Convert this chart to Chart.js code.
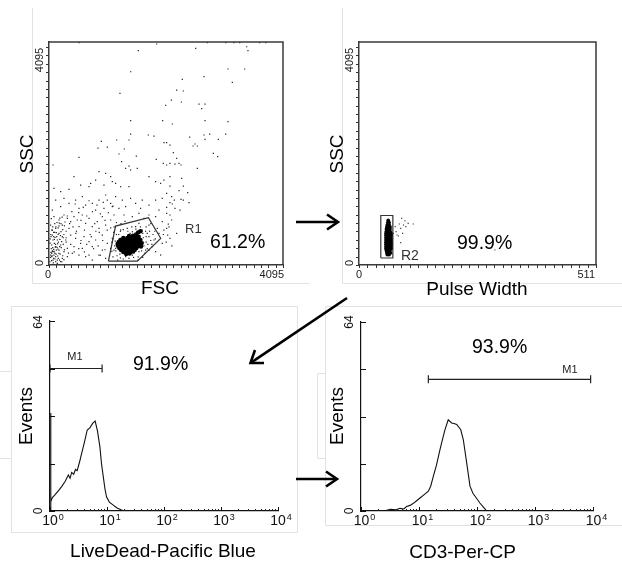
<!DOCTYPE html>
<html><head><meta charset="utf-8">
<script src="https://cdn.jsdelivr.net/npm/chart.js@4.4.1/dist/chart.umd.min.js"></script>
<style>
html,body{margin:0;padding:0;background:#fff;}
#fig{position:relative;width:622px;height:564px;overflow:hidden;background:#fff;}
canvas.p{position:absolute;}
svg.ov{position:absolute;left:0;top:0;}
</style></head><body>
<div id="fig">
<svg class="ov" width="622" height="564">
 <g stroke="#e2e2e2" stroke-width="1" fill="none">
  <path d="M32.5 8 V283.5 H310"/>
  <path d="M342.5 8 V283.5 H622"/>
  <rect x="11.5" y="306.5" width="286" height="226"/>
  <path d="M0 371.5 H11.5 M0 458.5 H11.5"/>
  <path d="M622 306.5 H325.5 V525.5 H622"/>
  <path d="M325.5 373.5 H317.5 V458.5 H325.5"/>
 </g>
</svg>
<canvas id="c1" class="p" style="left:0;top:0" width="310" height="300"></canvas>
<canvas id="c2" class="p" style="left:310px;top:0" width="312" height="300"></canvas>
<canvas id="c3" class="p" style="left:0;top:290px" width="310" height="274"></canvas>
<canvas id="c4" class="p" style="left:310px;top:290px" width="312" height="274"></canvas>
<svg class="ov" width="622" height="564">
 <g stroke="#000" stroke-width="2.6" fill="none">
  <line x1="296" y1="222" x2="337" y2="222"/>
  <polyline points="327,214.5 338,222 327,229.5"/>
  <line x1="347" y1="298" x2="252" y2="362"/>
  <polyline points="264,363 250.5,363 255,350"/>
  <line x1="296" y1="479" x2="336" y2="479"/>
  <polyline points="326,471.5 337,479 326,486.5"/>
 </g>
</svg>
</div>
<script>
// ---------------- DATA ----------------
const fscTickLabels = ['0', '4095'];
const sscTickLabels = ['0', '4095'];
const pulseTickLabels = ['0', '511'];
const eventsTickLabels = ['0', '64'];
const logTickValues = [1, 10, 100, 1000, 10000];
const logTickExps = ['0', '1', '2', '3', '4'];
const axisTitlesTop = ['FSC', 'SSC', 'Pulse Width', 'SSC'];
const axisTitlesBottom = ['LiveDead-Pacific Blue', 'Events', 'CD3-Per-CP', 'Events'];
const gateNames = ['R1', 'R2'];
const gatePercents = ['61.2%', '99.9%'];
const markerNames = ['M1', 'M1'];
const markerPercents = ['91.9%', '93.9%'];

// FSC vs SSC events (x = FSC, y = SSC)
const fscSscEvents = [
[1563,3935],[1884,4058],[2567,3978],[3459,4008],[3482,3935],[1429,3549],[3132,3599],[3424,3599],[2712,3458],[2333,3409],[3208,3354],[1242,3152],[2234,3213],[2351,3195],[2141,3029],[2316,2993],[2042,2932],[2625,2956],[2730,2956],[2672,2870],[1429,2650],[1989,2650],[2158,2589],[2730,2650],[3132,2632],[1429,2405],[1738,2387],[1837,2368],[2712,2387],[2812,2405],[3092,2405],[2462,2350],[916,2271],[1184,2295],[1400,2295],[2012,2246],[2059,2246],[2117,2203],[2555,2222],[2520,2185],[2596,2185],[2730,2307],[2963,2307],[857,2148],[1021,2166],[1318,2130],
[525,4085],[2771,4085],[3092,4085],[3237,4085],[3337,4085],[3687,4085],[3792,4085],
[525,1976],[1225,2038],[1528,2001],[1271,1897],[1400,1817],[1877,1940],[2000,1866],[70,1836],[1341,1774],[1428,1744],[1545,1774],
[437,1621],[875,1713],[991,1683],[816,1560],[1079,1621],[1108,1530],[554,1468],[729,1499],[700,1438],[962,1468],[1166,1499],[1253,1438],[1399,1438],[1866,1530],[1953,1499],[2011,1560],[1749,1621],[204,1346],[350,1389],[87,1407],
[117,1193],[262,1224],[350,1132],[466,1193],[583,1254],[641,1101],[758,1132],[875,1193],[991,1285],[1020,1193],[1079,1132],[1108,1071],[1166,1254],[1283,1193],[1428,1224],[1516,1132],[1632,1193],[1749,1101],[1866,1193],[1982,1224],[525,1040],[816,1009],[962,1040],[1224,1040],[1341,1071],[1603,1040],[1924,1009],[58,1009],[204,1071],
[87,887],[175,826],[262,918],[321,856],[379,795],[437,887],[496,826],[583,918],[641,765],[700,856],[758,703],[845,795],[933,887],[991,734],[1079,826],[1137,918],[1312,918],[1458,887],[1574,948],[1662,856],[1749,918],[1866,887],[1982,795],[233,734],[350,673],[525,703],[875,673],[1020,642],[1574,765],[1749,734],[1895,673],[2011,642],[117,673],[29,734],
[58,550],[105,508],[146,459],[175,581],[233,520],[292,459],[379,550],[466,489],[554,397],[612,520],[700,428],[816,459],[933,550],[1020,397],[1108,489],[1749,520],[1837,459],[1924,581],[1982,397],[1807,336],[47,367],[117,336],[204,367],[321,306],[437,336],[583,306],[758,336],[933,275],[1079,306],[1137,275],
[58,244],[87,183],[117,153],[146,91],[70,91],[105,214],[175,214],[233,122],[321,153],[408,214],[525,183],[641,153],[758,91],[875,183],[991,122],[1749,275],[1866,244],[1953,183],[47,153],[128,275],[163,122],[82,287],[204,61],[262,244],
[1253,642],[1370,673],[1516,703],[1632,642],[1720,581],[1341,153],[1458,183],[1574,244],[1691,275],[1166,306],
[35,520],[70,459],[93,397],[140,324],[175,275],[47,214],[82,122],[117,61],[152,165],[187,336],[222,428],[58,642],[128,593],[210,612],
[20,400],[40,300],[60,260],[30,180],[90,240],[110,330],[150,390],[190,470],[250,380],[300,500],[260,560],[200,540],[80,600],[160,680],[240,650],[300,620],[100,760],[40,850],[180,770],[280,790],
[15,60],[25,140],[35,230],[45,80],[55,170],[65,320],[75,40],[85,250],[95,470],[105,110],[115,380],[125,200],[135,520],[145,30],[155,290],[165,420],[185,90],[195,200],[215,320],[225,60],[240,170],[260,100],[270,280],[20,480],[30,560],[50,640],[65,700],[80,520],[100,600],[120,700],[140,780],[160,560],[175,720],[190,860],[210,760],[230,880],[250,500],[270,720],
[320,900],[360,760],[400,980],[420,700],[460,1120],[480,620],[520,960],[560,820],[600,1060],[620,640],[660,900],[700,1180],[720,560],[760,980],[800,760],[840,1100],[880,600],[900,940],[950,1150],[980,820],[1040,960],[1080,680],[1120,1080],[300,420],[340,220],[380,380],[440,240],[470,580],[520,300],[560,450],[620,240],[660,380],[700,180],[740,520],[780,300],[820,620],[860,350],[900,180],[940,450],[980,280],
[2876,2050],[2952,1989],[2176,2062],[2234,1958],[2117,1866],[2059,1836],[2205,1854],[2310,1836],[2275,1866],[2596,1774],[2117,1621],[2322,1591],[2117,1450],[2351,1450],[2275,1364],[2427,1328],[2059,1315],[2147,1254],[2193,1193],[2310,1205],[2351,1193],[2450,1144],[2117,1144],[2158,1120],[2059,1058],[2205,1040],[2292,1009],[2059,948],[2117,918],[2147,826],[2088,752],[2059,673],[2234,581],[2077,550],[2117,489],
[1130,600],[1180,560],[1120,480],[1150,350],[1100,250],[1190,170],[1250,130],[1700,420],[1650,500],[1780,450],[1620,260],[1560,150],[1480,140],[1690,620],[1600,700],[1450,700],[1300,650],[1220,560],[1660,350],[1720,300],[1120,150],[1400,120],
[1100,420],[1140,700],[1180,780],[1260,760],[1330,800],[1380,620],[1460,610],[1520,660],[1640,580],[1700,700],[1760,620],[1820,560],[1860,480],[1680,220],[1640,140],[1560,90],[1300,110],[1200,90],[1650,420],[1700,520],[1730,380],[1800,380],[1850,620],[1780,760],[1240,200],[1170,260],[1160,440],[1250,620],[1420,580],[1500,580],
[2000,560],[2050,420],[2100,700],[2150,350]
];
// dense lymphocyte core inside R1
const fscSscCore = [
[1400,532],[1470,540],[1530,560],[1560,600],[1600,620],
[1300,496],[1370,496],[1440,496],[1510,500],[1570,520],
[1250,459],[1310,459],[1370,459],[1430,459],[1490,459],[1550,470],[1600,460],
[1220,422],[1280,422],[1340,422],[1400,422],[1460,422],[1520,422],[1580,430],[1620,400],
[1200,386],[1260,386],[1320,386],[1380,386],[1440,386],[1500,386],[1560,386],
[1210,349],[1270,349],[1330,349],[1390,349],[1450,349],[1510,349],[1570,349],[1610,340],
[1230,312],[1290,312],[1350,312],[1410,312],[1470,312],[1530,312],
[1260,275],[1320,275],[1380,275],[1440,275],[1500,275],
[1300,238],[1360,238],[1420,238],[1470,245],
[1350,202],[1410,210]
];
const gateR1 = [[1040,70],[1165,715],[1740,870],[1955,490],[1545,70],[1040,70]];

// Pulse width vs SSC
const pulseSscEvents = [[92,857],[99,813],[87,753],[96,734],[106,765],[117,753],[90,673],[101,704],[80,612],[94,581],[85,532],[90,410],[78,704],[74,581],[82,551],[293,275]];
const pulseSscCore = [
[63,820],[62,780],[65,780],[61,740],[65,740],[60,700],[64,700],[67,700],
[59,660],[63,660],[67,660],[59,620],[63,620],[67,620],
[58,580],[62,580],[66,580],[69,580],[58,540],[62,540],[66,540],[69,540],
[58,500],[62,500],[66,500],[69,500],[58,460],[62,460],[66,460],[69,460],
[58,420],[62,420],[66,420],[69,420],[58,380],[62,380],[66,380],[69,380],
[58,340],[62,340],[66,340],[69,340],[58,300],[62,300],[66,300],[69,300],
[59,260],[63,260],[67,260],[60,220],[64,220],[68,220],[61,190],[65,190]
];
const gateR2 = [[47,129],[47,909],[73,909],[73,129],[47,129]];

// Histograms
const liveDeadX = [1.025,1.025,1.04,1.1,1.22,1.4,1.6,1.85,2.1,2.25,2.4,2.6,2.8,3.0,3.3,3.6,4.0,4.5,5.0,5.6,6.2,6.8,7.5,8.0,8.6,9.2,9.8,11,12.9,15,18,20];
const liveDeadEvents = [0,33,3.1,4.5,5.4,6.8,8.2,10,12.1,11,13,12.4,14,13.6,16.5,19.5,23,27.3,28,29.5,30.3,27,21.7,16,11.6,7.5,4.8,3,2,1,0.3,0];
const cd3X = [2.5,3.2,4,4.7,5.5,6.1,7,8,9,10.4,12,14.5,15.9,17.7,20,23,26,28,31.9,36.5,40,44.7,52.5,58,66.4,75.7,85,92.7,112,130,147];
const cd3Events = [0,0.6,0.4,0.9,0.7,1.5,1.9,2.6,3.4,4.4,5.4,6.7,8.4,11.8,15.5,20.8,25,27.5,30.9,29.8,29.6,29.3,27.5,24.2,16.3,8.4,6,5,2.7,1.2,0];
const markerLiveDead = [1, 8.2];   const markerLiveDeadLevel = 48;
const markerCD3 = [14.5, 9100];    const markerCD3Level = 44.6;

// ---------------- RENDER ----------------
const FONT = '"Liberation Sans", Arial, Helvetica, sans-serif';
Chart.defaults.font.family = FONT;

const fscTicks = Array.from({length: 33}, (_, i) => Math.min(i * 128, 4095));
const sscTicks = Array.from({length: 27}, (_, i) => i * 154);
const pulseTicks = Array.from({length: 29}, (_, i) => Math.min(i * 18.25, 511));
const evTicks = [0, 16, 32, 48, 64];
const logMinor = [];
[1, 10, 100, 1000].forEach(d => { for (let m = 2; m <= 9; m++) logMinor.push(m * d); });

const DECOR = {};
const decor = {
  id: 'decor',
  afterDraw(chart) {
    const o = DECOR[chart.canvas.id]; if (!o) return;
    const ctx = chart.ctx, ca = chart.chartArea;
    const [ox, oy] = o.origin;
    const xs = chart.scales.x, ys = chart.scales.y;
    ctx.save();
    if (o.box) {
      ctx.strokeStyle = '#3a3a3a'; ctx.lineWidth = 1.5;
      ctx.beginPath(); ctx.moveTo(ca.left, ca.top); ctx.lineTo(ca.right, ca.top); ctx.lineTo(ca.right, ca.bottom); ctx.stroke();
    }
    for (const tk of o.ticks || []) {
      ctx.strokeStyle = tk.color || '#333'; ctx.lineWidth = 1;
      ctx.beginPath();
      tk.values.forEach(v => {
        if (tk.axis === 'x') {
          const p = Math.round(xs.getPixelForValue(v)) + 0.5, s = tk.dir === 'out' ? 1 : -1;
          ctx.moveTo(p, ca.bottom); ctx.lineTo(p, ca.bottom + s * tk.len);
        } else {
          const p = Math.round(ys.getPixelForValue(v)) + 0.5, s = tk.dir === 'out' ? -1 : 1;
          ctx.moveTo(ca.left, p); ctx.lineTo(ca.left + s * tk.len, p);
        }
      });
      ctx.stroke();
    }
    for (const t of o.texts || []) {
      ctx.save();
      ctx.font = t.size + 'px ' + FONT;
      ctx.fillStyle = t.color || '#000';
      ctx.textAlign = t.align || 'center';
      ctx.textBaseline = 'alphabetic';
      ctx.translate(t.x - ox, t.y - oy);
      if (t.rot) ctx.rotate(t.rot * Math.PI / 180);
      ctx.fillText(t.text, 0, 0);
      ctx.restore();
    }
    if (o.logLabels) {
      const L = o.logLabels;
      ctx.fillStyle = '#111'; ctx.textAlign = 'left'; ctx.textBaseline = 'alphabetic';
      logTickValues.forEach((v, i) => {
        const px = xs.getPixelForValue(v) + L.shift;
        ctx.font = L.size + 'px ' + FONT; const w1 = ctx.measureText('10').width;
        ctx.font = L.sup + 'px ' + FONT; const w2 = ctx.measureText(logTickExps[i]).width;
        const x = px - (w1 + 1 + w2) / 2;
        ctx.font = L.size + 'px ' + FONT; ctx.fillText('10', x, L.y - oy);
        ctx.font = L.sup + 'px ' + FONT; ctx.fillText(logTickExps[i], x + w1 + 1, L.y - oy - L.raise);
      });
    }
    ctx.restore();
  }
};

const toXY = a => a.map(p => ({x: p[0], y: p[1]}));
const zipXY = (xs, ys) => xs.map((x, i) => ({x, y: ys[i]}));

function build(id, area, xScale, yScale, datasets) {
  const cv = document.getElementById(id);
  const W = cv.width, H = cv.height;
  return new Chart(cv, {
    type: 'scatter',
    data: {datasets},
    options: {
      responsive: false, animation: false, devicePixelRatio: 1, events: [],
      layout: {autoPadding: false, padding: {left: 0, top: area.top, right: W - area.right, bottom: 0}},
      plugins: {legend: {display: false}, tooltip: {enabled: false}},
      scales: {
        x: Object.assign({position: 'bottom', ticks: {display: false}, grid: {display: false},
          afterFit(s) { s.height = H - area.bottom; }}, xScale),
        y: Object.assign({position: 'left', ticks: {display: false}, grid: {display: false},
          afterFit(s) { s.width = area.left; }}, yScale)
      }
    },
    plugins: [decor]
  });
}

const boxBorder = {display: true, color: '#3a3a3a', width: 1.5};
const axBorder = {display: true, color: '#111', width: 1.2};

// Panel 1: FSC / SSC
DECOR.c1 = {
  origin: [0, 0], box: true,
  ticks: [{axis: 'x', values: fscTicks, len: 3, dir: 'out'}, {axis: 'y', values: sscTicks, len: 3, dir: 'out'}],
  texts: [
    {text: axisTitlesTop[1], x: 33, y: 154, size: 19, rot: -90},
    {text: axisTitlesTop[0], x: 160, y: 294, size: 19},
    {text: sscTickLabels[1], x: 43, y: 60, size: 11, rot: -90, color: '#222'},
    {text: sscTickLabels[0], x: 43, y: 263, size: 11, rot: -90, color: '#222'},
    {text: fscTickLabels[0], x: 48, y: 278, size: 11, color: '#222'},
    {text: fscTickLabels[1], x: 284, y: 278, size: 11, align: 'right', color: '#222'},
    {text: gateNames[0], x: 185, y: 233, size: 13, align: 'left', color: '#333'},
    {text: gatePercents[0], x: 210, y: 248, size: 19.5, align: 'left'}
  ]
};
build('c1', {left: 49, top: 42, right: 283, bottom: 265},
  {type: 'linear', min: 0, max: 4095, border: boxBorder},
  {type: 'linear', min: 0, max: 4095, border: boxBorder},
  [
    {data: toXY(fscSscEvents), pointStyle: 'rect', pointRadius: 0.85, backgroundColor: '#222', borderWidth: 0, clip: 3},
    {data: toXY(fscSscCore), pointRadius: 2.2, backgroundColor: '#000', borderWidth: 0},
    {data: toXY(gateR1), showLine: true, borderColor: '#333', borderWidth: 1.2, pointRadius: 0, tension: 0, fill: false}
  ]);

// Panel 2: Pulse width / SSC
DECOR.c2 = {
  origin: [310, 0], box: true,
  ticks: [{axis: 'x', values: pulseTicks, len: 3, dir: 'out'}, {axis: 'y', values: sscTicks, len: 3, dir: 'out'}],
  texts: [
    {text: axisTitlesTop[3], x: 343, y: 154, size: 19, rot: -90},
    {text: axisTitlesTop[2], x: 477, y: 295, size: 19},
    {text: sscTickLabels[1], x: 353, y: 60, size: 11, rot: -90, color: '#222'},
    {text: sscTickLabels[0], x: 353, y: 263, size: 11, rot: -90, color: '#222'},
    {text: pulseTickLabels[0], x: 359, y: 278, size: 11, color: '#222'},
    {text: pulseTickLabels[1], x: 595, y: 278, size: 11, align: 'right', color: '#222'},
    {text: gateNames[1], x: 401, y: 260, size: 14, align: 'left', color: '#333'},
    {text: gatePercents[1], x: 457, y: 249, size: 19.5, align: 'left'}
  ]
};
build('c2', {left: 49, top: 42, right: 286, bottom: 265},
  {type: 'linear', min: 0, max: 511, border: boxBorder},
  {type: 'linear', min: 0, max: 4095, border: boxBorder},
  [
    {data: toXY(pulseSscEvents), pointStyle: 'rect', pointRadius: 0.8, backgroundColor: '#333', borderWidth: 0},
    {data: toXY(pulseSscCore), pointRadius: 1.8, backgroundColor: '#000', borderWidth: 0},
    {data: toXY(gateR2), showLine: true, borderColor: '#333', borderWidth: 1.2, pointRadius: 0, tension: 0, fill: false}
  ]);

function markerSet(range, level) {
  return {data: [{x: range[0], y: level}, {x: range[1], y: level}], showLine: true,
    borderColor: '#222', borderWidth: 1.2, pointStyle: 'line', pointRotation: 90,
    pointRadius: 4, pointBorderColor: '#222', pointBorderWidth: 1.2, backgroundColor: '#222', tension: 0};
}

// Panel 3: LiveDead histogram
DECOR.c3 = {
  origin: [0, 290],
  ticks: [{axis: 'y', values: evTicks, len: 5, dir: 'in', color: '#111'},
          {axis: 'x', values: logTickValues, len: 4, dir: 'in', color: '#111'},
          {axis: 'x', values: logMinor, len: 2, dir: 'in', color: '#222'}],
  texts: [
    {text: axisTitlesBottom[1], x: 32, y: 416, size: 19, rot: -90},
    {text: eventsTickLabels[1], x: 42, y: 322, size: 12, rot: -90, color: '#111'},
    {text: eventsTickLabels[0], x: 42, y: 511, size: 12, rot: -90, color: '#111'},
    {text: axisTitlesBottom[0], x: 163, y: 557, size: 19},
    {text: markerNames[0], x: 75, y: 360, size: 11, color: '#222'},
    {text: markerPercents[0], x: 133, y: 370, size: 19.5, align: 'left'}
  ],
  logLabels: {y: 525, shift: 3, size: 14, sup: 9, raise: 5}
};
build('c3', {left: 50, top: 31, right: 278, bottom: 221},
  {type: 'logarithmic', min: 1, max: 10000, border: axBorder},
  {type: 'linear', min: 0, max: 64, border: axBorder},
  [
    {data: zipXY(liveDeadX, liveDeadEvents), showLine: true, borderColor: '#111', borderWidth: 1.1, pointRadius: 0, tension: 0, fill: false},
    markerSet(markerLiveDead, markerLiveDeadLevel)
  ]);

// Panel 4: CD3 histogram
DECOR.c4 = {
  origin: [310, 290],
  ticks: [{axis: 'y', values: evTicks, len: 5, dir: 'in', color: '#111'},
          {axis: 'x', values: logTickValues, len: 4, dir: 'in', color: '#111'},
          {axis: 'x', values: logMinor, len: 2, dir: 'in', color: '#222'}],
  texts: [
    {text: axisTitlesBottom[3], x: 343, y: 416, size: 19, rot: -90},
    {text: eventsTickLabels[1], x: 353, y: 322, size: 12, rot: -90, color: '#111'},
    {text: eventsTickLabels[0], x: 353, y: 511, size: 12, rot: -90, color: '#111'},
    {text: axisTitlesBottom[2], x: 462.5, y: 558, size: 19},
    {text: markerNames[1], x: 570, y: 373, size: 11, color: '#222'},
    {text: markerPercents[1], x: 472, y: 353, size: 19.5, align: 'left'}
  ],
  logLabels: {y: 525, shift: 3.5, size: 14, sup: 9, raise: 5}
};
build('c4', {left: 51, top: 32, right: 283, bottom: 221},
  {type: 'logarithmic', min: 1, max: 10000, border: axBorder},
  {type: 'linear', min: 0, max: 64, border: axBorder},
  [
    {data: zipXY(cd3X, cd3Events), showLine: true, borderColor: '#111', borderWidth: 1.1, pointRadius: 0, tension: 0, fill: false},
    markerSet(markerCD3, markerCD3Level)
  ]);
</script>
</body></html>
